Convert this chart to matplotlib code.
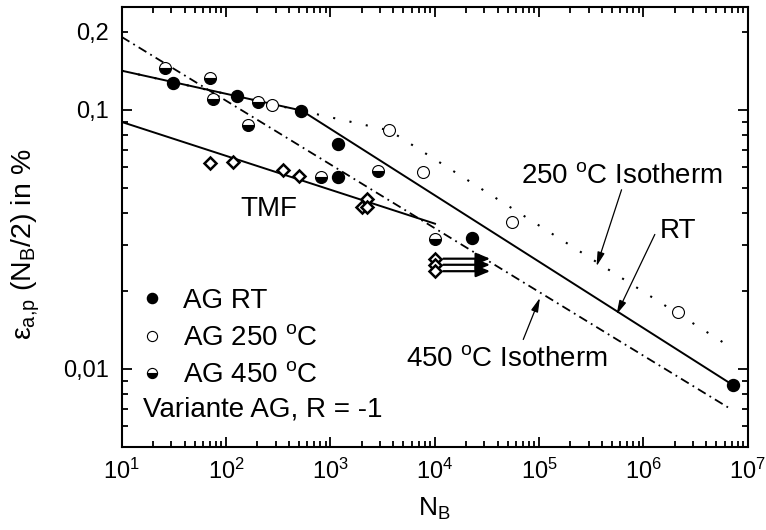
import numpy as np
from matplotlib import pyplot as plt
from matplotlib.ticker import LogLocator, FuncFormatter, NullFormatter

plt.rcParams["font.family"] = ["Liberation Sans", "DejaVu Sans"]
plt.rcParams["mathtext.fontset"] = "custom"
plt.rcParams["mathtext.rm"] = "Liberation Sans"
plt.rcParams["mathtext.it"] = "Liberation Sans:italic"
plt.rcParams["mathtext.bf"] = "Liberation Sans:bold"

# measured points (N_B, eps_a,p in %)
rt_N = [31.3, 127, 524, 1178, 1178, 22900, 7.24e6]
rt_eps = [0.1274, 0.1132, 0.0991, 0.0739, 0.0548, 0.0320, 0.00864]

t250_N = [278, 3673, 7780, 54700, 2.15e6]
t250_eps = [0.1045, 0.0832, 0.0573, 0.0369, 0.0166]

t450_N = [26.1, 70.5, 75.7, 202, 162, 809, 2884, 10070]
t450_eps = [0.1448, 0.1325, 0.110, 0.1067, 0.0876, 0.0548, 0.0582, 0.0318]

tmf_N = [70.5, 116, 350, 501, 2234, 2014, 2234]
tmf_eps = [0.0623, 0.0628, 0.0587, 0.0553, 0.0452, 0.0421, 0.0421]

# run-outs (TMF) at the end of the test
runout_N = [10070, 10070, 10070]
runout_eps = [0.0266, 0.0252, 0.0238]
runout_end = 3.4e4

# fitted curves
fit_rt_N = [10, 530, 7.24e6]
fit_rt_eps = [0.1415, 0.0993, 0.00864]
fit_250_N = [10, 3673, 7.0e6]
fit_250_eps = [0.1415, 0.0832, 0.01205]
fit_450_N = [10, 6.75e6]
fit_450_eps = [0.191, 0.00702]
fit_tmf_N = [10, 10070]
fit_tmf_eps = [0.0897, 0.0363]

fig = plt.figure(figsize=(7.66, 5.3), dpi=100)
ax = fig.add_axes([0.1589, 0.1572, 0.8172, 0.8302])

ax.plot(fit_250_N, fit_250_eps, color="k", lw=1.5, ls=(0, (1, 7)))
ax.plot(fit_450_N, fit_450_eps, color="k", lw=1.3, ls=(0, (5, 2.5, 1, 2.5)))
ax.plot(fit_rt_N, fit_rt_eps, color="k", lw=1.4)
ax.plot(fit_tmf_N, fit_tmf_eps, color="k", lw=1.4)

for n, e in zip(runout_N, runout_eps):
    ax.annotate("", xy=(runout_end, e), xytext=(n, e),
                arrowprops=dict(arrowstyle="-|>,head_length=0.6,head_width=0.25",
                                color="k", lw=1.6, shrinkA=6, shrinkB=0,
                                mutation_scale=14))

ms = 8.6
ax.plot(tmf_N, tmf_eps, ls="none", marker="D", ms=6.2, mfc="white", mec="k", mew=1.8)
ax.plot(runout_N, runout_eps, ls="none", marker="D", ms=6.2, mfc="white", mec="k", mew=1.8)
h_rt, = ax.plot(rt_N, rt_eps, ls="none", marker="o", ms=ms, mfc="k", mec="k",
                label="AG RT")
h_250, = ax.plot(t250_N, t250_eps, ls="none", marker="o", ms=ms, mfc="white", mec="k",
                 mew=0.8, label="AG 250 $^{\\mathrm{o}}$C")
h_450, = ax.plot(t450_N, t450_eps, ls="none", marker="o", ms=ms, fillstyle="bottom",
                 mfc="k", markerfacecoloralt="white", mec="k", mew=0.8,
                 label="AG 450 $^{\\mathrm{o}}$C")

ax.set_xscale("log")
ax.set_yscale("log")
ax.set_xlim(10, 1e7)
ax.set_ylim(0.005, 0.25)

ax.xaxis.set_major_locator(LogLocator(base=10, numticks=20))
ax.xaxis.set_minor_locator(LogLocator(base=10, subs=np.arange(2, 10), numticks=20))
ax.xaxis.set_minor_formatter(NullFormatter())
ax.yaxis.set_major_locator(LogLocator(base=10, numticks=20))
ax.yaxis.set_minor_locator(LogLocator(base=10, subs=np.arange(2, 10), numticks=20))
ax.yaxis.set_major_formatter(FuncFormatter(lambda v, p: {0.01: "0,01", 0.1: "0,1"}.get(round(v, 4), "")))
ax.yaxis.set_minor_formatter(FuncFormatter(lambda v, p: "0,2" if abs(v - 0.2) < 1e-6 else ""))

ax.tick_params(which="both", direction="in", top=True, right=True, width=1.3,
               labelsize=17)
ax.tick_params(which="major", length=7, pad=9)
ax.tick_params(which="minor", length=4, pad=9)
for s in ax.spines.values():
    s.set_linewidth(1.5)

ax.set_xlabel("N$_{\\mathrm{B}}$", fontsize=19)
ax.set_ylabel("\u03b5$_{\\mathrm{a{,}p}}$ (N$_{\\mathrm{B}}$/2) in %", fontsize=20.5)
ax.xaxis.set_label_coords(0.5, -0.112)
ax.yaxis.set_label_coords(-0.128, 0.46)

# curve labels
arr = dict(arrowstyle="-|>,head_length=0.7,head_width=0.18", color="k", lw=0.9,
           shrinkA=0, shrinkB=0, mutation_scale=12)
ax.text(6.22e5, 0.0522, "250 $^{\\mathrm{o}}$C Isotherm", fontsize=20, ha="center", va="baseline")
ax.annotate("", xy=(3.56e5, 0.02487), xytext=(6.18e5, 0.0491), arrowprops=arr)
ax.text(2.15e6, 0.0320, "RT", fontsize=20, ha="center", va="baseline")
ax.annotate("", xy=(5.53e5, 0.0162), xytext=(1.288e6, 0.0330), arrowprops=arr)
ax.text(4.93e4, 0.01023, "450 $^{\\mathrm{o}}$C Isotherm", fontsize=20, ha="center", va="baseline")
ax.annotate("", xy=(1.02e5, 0.01878), xytext=(7.06e4, 0.01297), arrowprops=arr)
ax.text(259, 0.0388, "TMF", fontsize=20, ha="center", va="baseline")

ax.legend(handles=[h_rt, h_250, h_450], loc="center left", bbox_to_anchor=(0.0256, 0.2464),
          frameon=False, fontsize=20, borderpad=0, borderaxespad=0, handlelength=1.0,
          handletextpad=0.63, labelspacing=0.4, markerscale=0.85)
ax.text(0.0345, 0.0682, "Variante AG, R = -1", fontsize=20, transform=ax.transAxes,
        va="baseline")

fig.savefig("out.png", dpi=100)
